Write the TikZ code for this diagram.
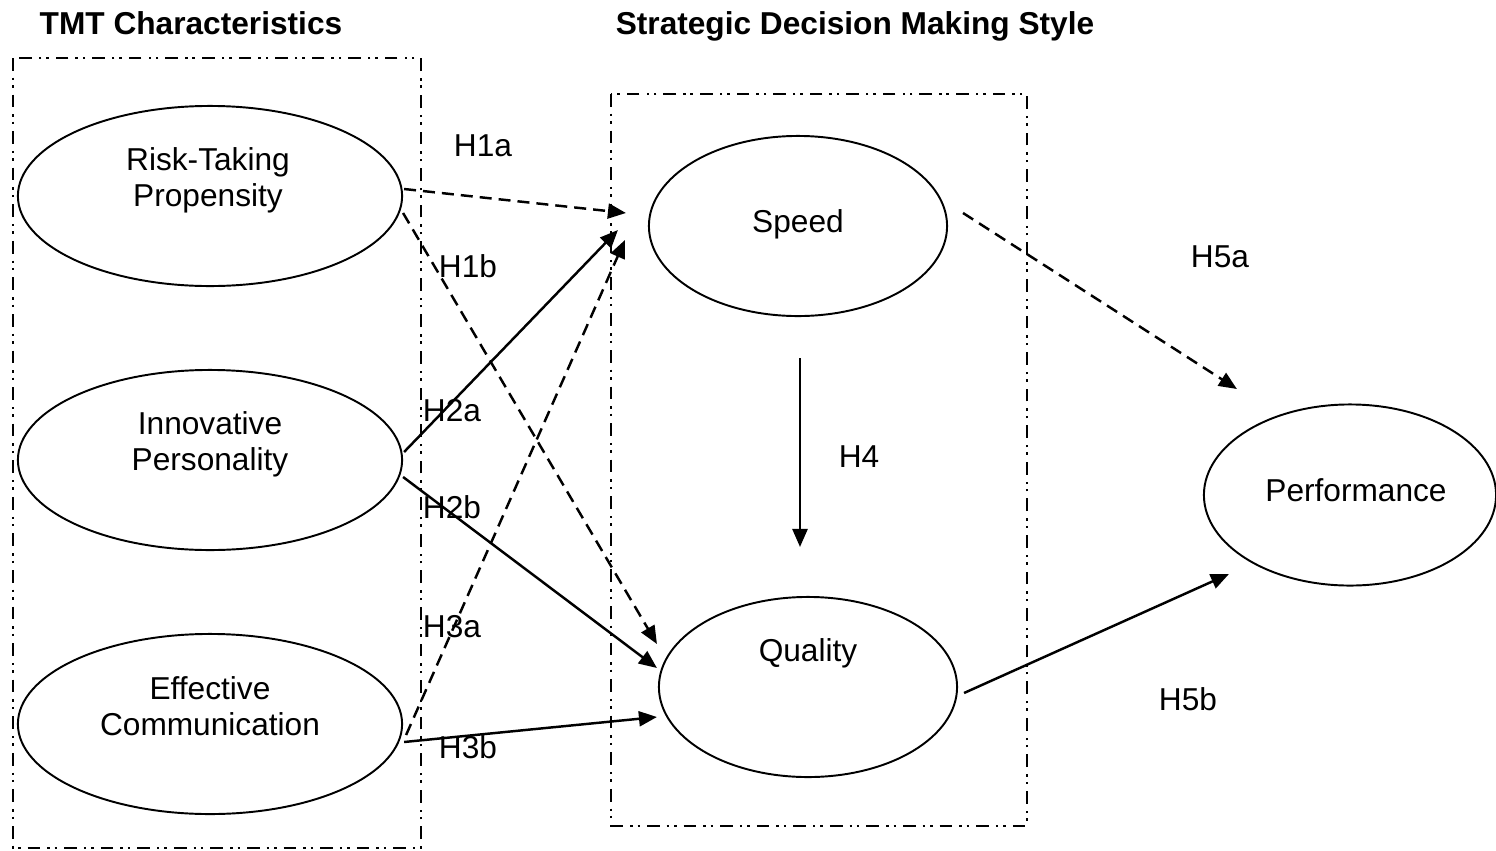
\documentclass[tikz,border=0pt]{standalone}
\usepackage{fontspec}
\setmainfont{Liberation Sans}
\usetikzlibrary{shapes.geometric,arrows.meta,calc}

\begin{document}
\begin{tikzpicture}[x=0.01cm,y=-0.01cm,
  oval/.style={ellipse,draw,line width=0.55pt,minimum width=3.84cm,minimum height=1.8cm,inner sep=0pt},
  txt/.style={font=\fontsize{9}{10.3}\selectfont,align=center,inner sep=0pt},
  hyp/.style={font=\fontsize{9}{10.3}\selectfont,inner sep=0pt},
  ttl/.style={font=\fontsize{9}{10.3}\selectfont\bfseries,inner sep=0pt,anchor=base},
  group/.style={line width=0.6pt,dash pattern=on 3.6pt off 2pt on 0.7pt off 1.4pt on 0.7pt off 2pt},
  arr/.style={line width=0.7pt,-{Triangle[length=0.18cm,width=0.15cm]}},
  darr/.style={arr,dash pattern=on 0.12cm off 0.07cm}]

\useasboundingbox (0,0) rectangle (1496,851);

% titles
\node[ttl] (tmttitle) at (191,34) {TMT Characteristics};
\node[ttl] (sdmtitle) at (855,34) {Strategic Decision Making Style};

% groups
\draw[group] (13,58) rectangle (421,848);
\draw[group] (611,94) rectangle (1027,826);

% constructs
\node[oval] (risk) at (210,196) {};
\node[oval] (innov) at (210,460) {};
\node[oval] (effcom) at (210,724) {};
\node[oval,minimum width=2.98cm] (speed) at (798,226) {};
\node[oval,minimum width=2.98cm] (quality) at (808,687) {};
\node[oval,minimum width=2.92cm,minimum height=1.81cm] (perf) at (1350,495) {};

\node[txt] (risktxt) at ($(risk)+(-2,-16)$) {Risk-Taking\\Propensity};
\node[txt] (innovtxt) at ($(innov)+(0,-16)$) {Innovative\\Personality};
\node[txt] (effcomtxt) at ($(effcom)+(0,-18)$) {Effective\\Communication};
\node[txt] (speedtxt) at ($(speed)+(0,-2)$) {Speed};
\node[txt] (qualitytxt) at ($(quality)+(0,-34)$) {Quality};
\node[txt] (perftxt) at ($(perf)+(6,-5)$) {Performance};

% hypotheses
\draw[darr] ($(risk.east)+(1,-7)$) -- ($(speed.west)+(-22,-13)$);
\draw[darr] ($(risk.east)+(0,17)$) -- ($(quality.west)+(-1,-43)$);
\draw[arr] ($(innov.east)+(1,-8)$) -- ($(speed.west)+(-30,4)$);
\draw[arr] ($(innov.east)+(0,17)$) -- ($(quality.west)+(-1,-19)$);
\draw[darr] ($(effcom.east)+(3,11)$) -- ($(speed.west)+(-23,14)$);
\draw[arr] ($(effcom.east)+(1,18)$) -- ($(quality.west)+(-1,30)$);
\draw[arr] ($(speed.south)+(2,41)$) -- ($(quality.north)+(-8,-49)$);
\draw[darr] ($(speed.east)+(15,-13)$) -- ($(perf.west)+(34,-106)$);
\draw[arr] ($(quality.east)+(6,6)$) -- ($(perf.west)+(26,79)$);

\node[hyp] (h1a) at (483,146) {H1a};
\node[hyp] (h1b) at (468,266) {H1b};
\node[hyp] (h2a) at (452,411) {H2a};
\node[hyp] (h2b) at (452,507) {H2b};
\node[hyp] (h3a) at (452,627) {H3a};
\node[hyp] (h3b) at (468,747) {H3b};
\node[hyp] (h4) at (859,457) {H4};
\node[hyp] (h5a) at (1220,257) {H5a};
\node[hyp] (h5b) at (1188,699) {H5b};

\end{tikzpicture}
\end{document}
